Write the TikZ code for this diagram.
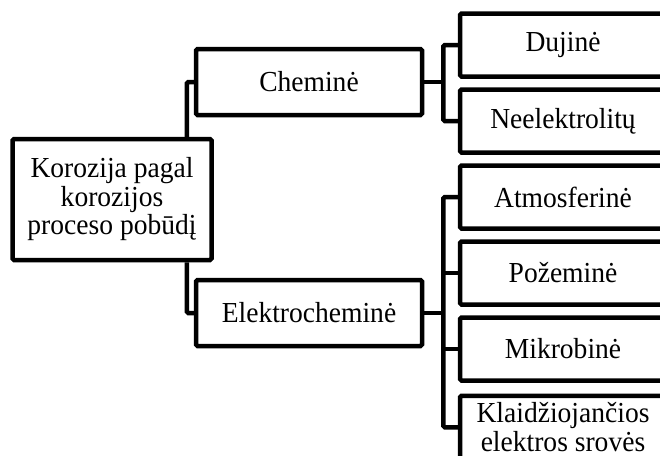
\documentclass[tikz,border=0pt]{standalone}
\usepackage{fontspec}
\setmainfont{Liberation Serif}[FakeStretch=0.95]
\tikzset{
  box/.style={draw, line width=4.5pt, rounded corners=1.5pt, align=center,
    inner sep=2pt, font=\fontsize{29}{28.5}\selectfont},
  rootbox/.style={box, minimum width=199pt, minimum height=121pt},
  midbox/.style={box, minimum width=226pt, minimum height=66pt},
  leafbox/.style={box, minimum width=206pt, minimum height=63pt},
  link/.style={line width=4.5pt, rounded corners=1.5pt}
}
\begin{document}
\begin{tikzpicture}[x=1pt, y=-1pt]
\useasboundingbox (0,0) rectangle (660,455);
% korozijos skirstymas
\node[rootbox] (root) at (112,199.5) {Korozija pagal\\ korozijos\\ proceso pobūdį};
\node[midbox] (chem) at (309,82) {Cheminė};
\node[midbox] (elek) at (309,313) {Elektrocheminė};
\node[leafbox] (duj) at (563,45) {Dujinė};
\node[leafbox] (neel) at (563,121) {Neelektrolitų};
\node[leafbox] (atm) at (563,197) {Atmosferinė};
\node[leafbox] (pozem) at (563,273) {Požeminė};
\node[leafbox] (mikro) at (563,349) {Mikrobinė};
\node[leafbox, anchor=north] (klaid) at (563,393.5) {Klaidžiojančios\\ elektros srovės};
% jungtys
\draw[link] ([xshift=-27pt]root.north east) |- (chem.west);
\draw[link] ([xshift=-27pt]root.south east) |- (elek.west);
\draw[link] (chem.east) -- ++(19,0) coordinate (cj);
\draw[link] (duj.west) -| (cj) |- (neel.west);
\draw[link] (elek.east) -- ++(19,0) coordinate (ej);
\draw[link] (atm.west) -| (ej) |- (klaid.west);
\draw[link] (pozem.west) -- (pozem.west -| ej);
\draw[link] (mikro.west) -- (mikro.west -| ej);
\end{tikzpicture}
\end{document}
